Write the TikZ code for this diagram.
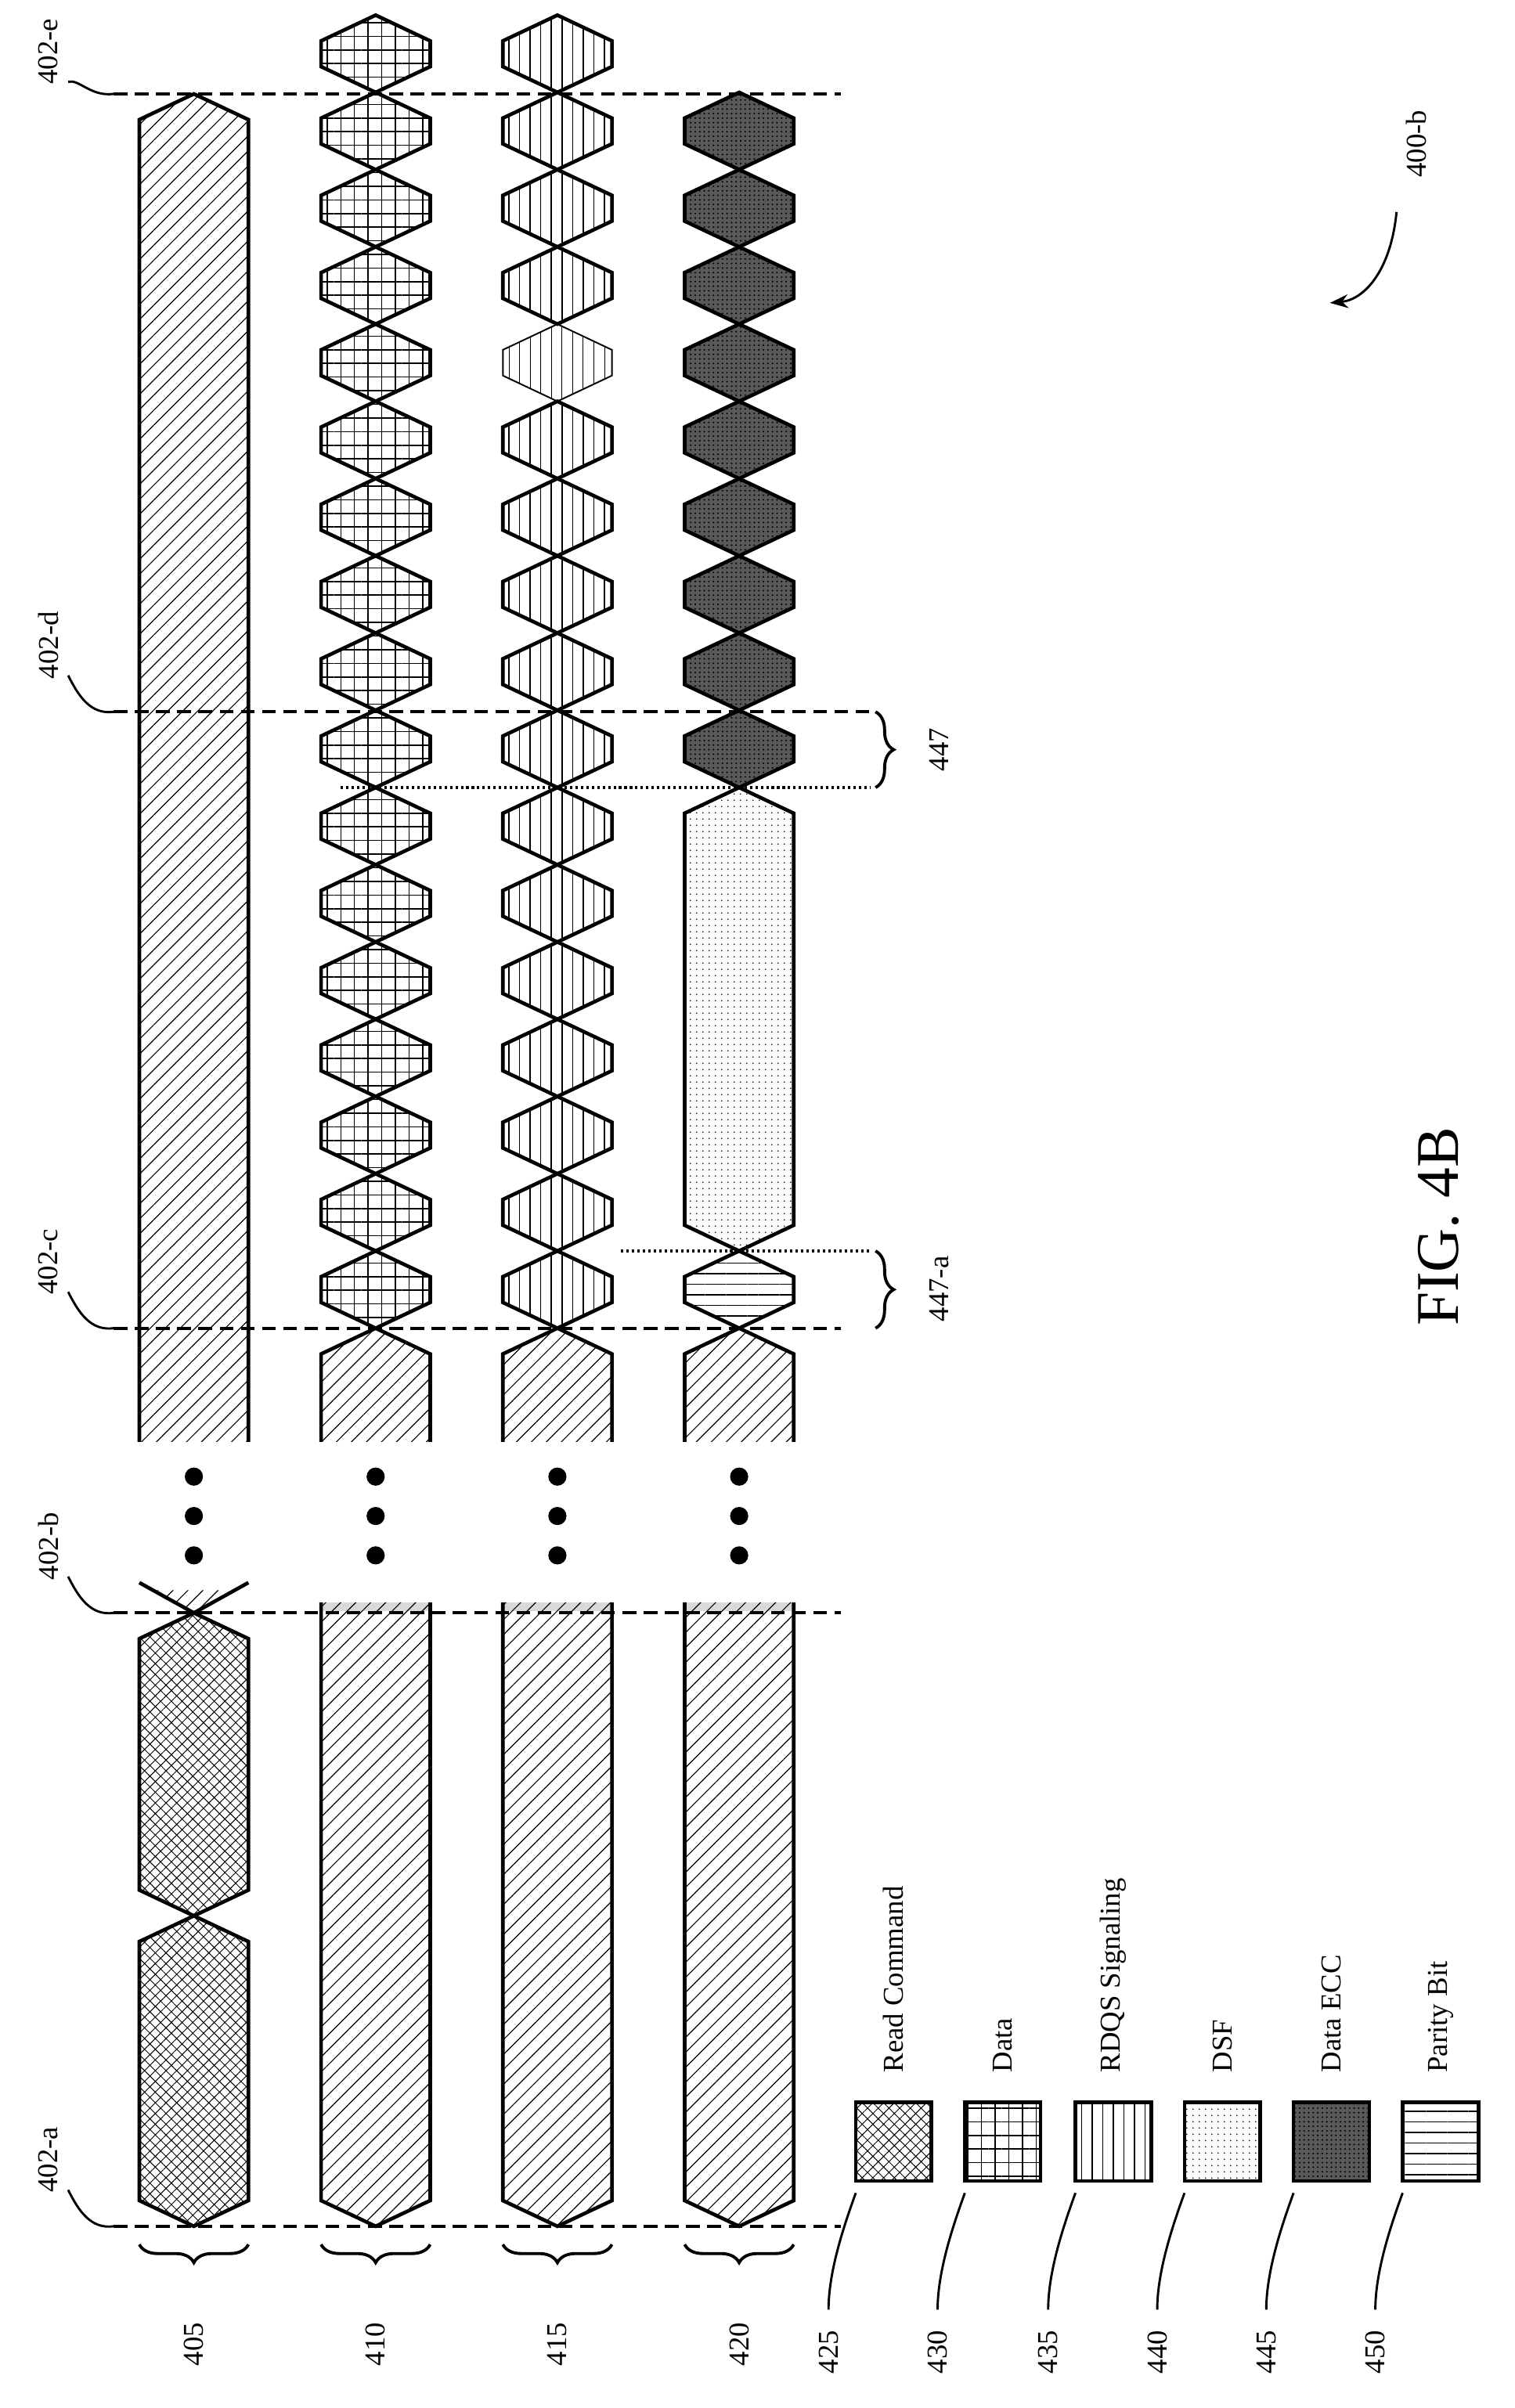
\documentclass[tikz,border=0pt]{standalone}
\usepackage{fontspec}
\setmainfont{Liberation Serif}
\usetikzlibrary{patterns,patterns.meta,decorations.pathreplacing,arrows.meta}

\tikzset{
 bar/.style={line width=2.4pt,line join=miter},
 diag/.style={bar,pattern={Lines[angle=45,distance=7pt,line width=0.6pt]}},
 rdcmd/.style={bar,pattern={Hatch[angle=45,distance=5pt,line width=0.5pt]}},
 datap/.style={bar,pattern={Hatch[angle=0,distance=9pt,line width=0.8pt]}},
 rdqs/.style={bar,pattern={Lines[angle=90,distance=7pt,line width=0.8pt]}},
 rdqslight/.style={line width=1pt,pattern={Lines[angle=90,distance=7pt,line width=0.4pt]}},
 dsf/.style={bar,pattern={Dots[distance=4pt,radius=0.5pt]}},
 ecc/.style={bar,preaction={fill=black!65},pattern={Dots[distance=3pt,radius=0.6pt]}},
 parity/.style={bar,pattern={Lines[angle=0,distance=7pt,line width=0.8pt]}},
 tick/.style={dash pattern=on 9pt off 5pt,line width=2pt},
 lbl/.style={rotate=90,font=\fontsize{19}{21}\selectfont},
 curly/.style={decorate,decoration={brace,amplitude=12pt},line width=2pt}
}

% hexagon: centre x, top y, bottom y, style
\newcommand\hexa[4]{\draw[#4] (#1-36,#2+17) -- (#1,#2) -- (#1+36,#2+17) -- (#1+36,#3-17) -- (#1,#3) -- (#1-36,#3-17) -- cycle;}

\begin{document}
\begin{tikzpicture}[x=1pt,y=-1pt]
 \useasboundingbox (0,0) rectangle (1000,1590);

 % lane 405
 \hexa{128}{1265}{1470}{rdcmd}
 \hexa{128}{1065}{1265}{rdcmd}
 \fill[pattern={Lines[angle=45,distance=7pt,line width=0.6pt]}] (103,1050) -- (128,1065) -- (153,1050) -- cycle;
 \draw[bar] (92,1045) -- (128,1065) -- (164,1045);
 \draw[diag] (92,952) -- (92,79) -- (128,62) -- (164,79) -- (164,952);

 % lanes 410 - 420, lower part
 \foreach \xc in {248,368,488}{
  \fill[black!15] (\xc-35,1058) rectangle (\xc+35,1064);
  \draw[diag] (\xc-36,1058) -- (\xc-36,1453) -- (\xc,1470) -- (\xc+36,1453) -- (\xc+36,1058);
  \draw[diag] (\xc-36,952) -- (\xc-36,894) -- (\xc,877) -- (\xc+36,894) -- (\xc+36,952);
  \foreach \d in {0,26,52} \fill (\xc,975+\d) circle (6);
 }
 \foreach \d in {0,26,52} \fill (128,975+\d) circle (6);

 % data and rdqs bursts
 \foreach \k in {0,...,16}{
  \hexa{248}{877-51*\k-51}{877-51*\k}{datap}
  \ifnum\k=12
   \hexa{368}{877-51*\k-51}{877-51*\k}{rdqslight}
  \else
   \hexa{368}{877-51*\k-51}{877-51*\k}{rdqs}
  \fi
 }

 % lane 420
 \hexa{488}{826}{877}{parity}
 \hexa{488}{520}{826}{dsf}
 \foreach \k in {7,...,15}{
  \hexa{488}{877-51*\k-51}{877-51*\k}{ecc}
 }

 % time marks
 \draw[tick] (75,1470) -- (555,1470);
 \draw[tick] (75,1065) -- (555,1065);
 \draw[tick] (75,877) -- (555,877);
 \draw[tick] (75,470) -- (575,470);
 \draw[tick] (75,62) -- (555,62);
 \draw[dotted,line width=1.6pt] (410,826) -- (575,826);
 \draw[dotted,line width=1.6pt] (225,520) -- (575,520);

 \foreach \y/\ly/\t in {1470/1426/a,1065/1021/b,877/833/c,470/426/d,62/34/e}{
  \node[lbl] (l\t) at (32,\ly) {402-\t};
  \draw[line width=1.5pt] (45,\ly+20) .. controls (52,\y-10) and (60,\y+2) .. (75,\y);
 }

 % lane braces
 \foreach \xc/\t in {128/405,248/410,368/415,488/420}{
  \draw[curly] (\xc+36,1482) -- (\xc-36,1482);
  \node[lbl] (n\t) at (\xc,1548) {\t};
 }
 \draw[curly] (578,826) -- (578,877);
 \node[lbl] (n447a) at (620,851) {447-a};
 \draw[curly] (578,470) -- (578,520);
 \node[lbl] (n447) at (620,495) {447};

 % legend
 \foreach \x/\s/\n/\t in {565/rdcmd/425/Read Command,637/datap/430/Data,710/rdqs/435/RDQS Signaling,
   782/dsf/440/DSF,854/ecc/445/Data ECC,926/parity/450/Parity Bit}{
  \draw[\s] (\x,1388) rectangle (\x+50,1440);
  \node[lbl,anchor=west] (t\n) at (\x+25,1372) {\t};
  \node[lbl] (k\n) at (\x-18,1553) {\n};
  \draw[line width=1.5pt] (\x-18,1525) .. controls (\x-18,1500) and (\x-8,1470) .. (\x,1448);
 }

 % figure id
 \node[lbl] (id) at (935,95) {400-b};
 \draw[line width=1.5pt,-{Stealth[length=12pt]}] (922,140) .. controls (918,180) and (900,198) .. (878,200);
 \node[rotate=90,font=\fontsize{40}{42}\selectfont] (fig) at (950,810) {FIG. 4B};
\end{tikzpicture}
\end{document}
